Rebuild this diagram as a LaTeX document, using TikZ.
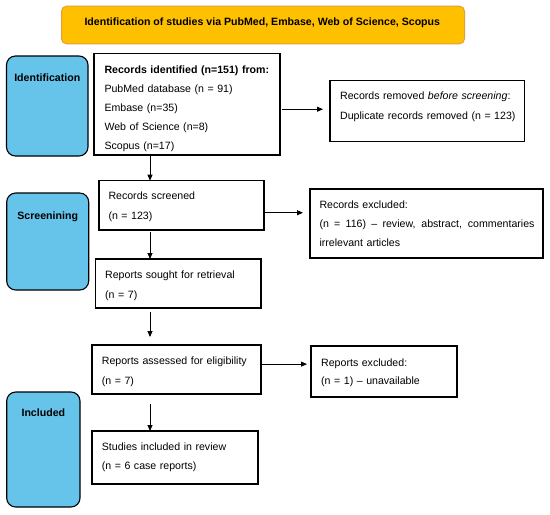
\documentclass[tikz,border=0pt]{standalone}
\usepackage{fontspec}
\setmainfont{Liberation Sans}
\usetikzlibrary{arrows.meta,calc}
\definecolor{stageblue}{RGB}{102,196,235}
\definecolor{titlefill}{RGB}{255,192,0}
\definecolor{titleedge}{RGB}{228,158,58}
\begin{document}
\begin{tikzpicture}[x=1pt,y=-1pt,
  box/.style={draw=black, line width=1.3pt, anchor=north west, inner sep=0pt, outer sep=0pt},
  stage/.style={draw=black, fill=stageblue, line width=1.1pt, rounded corners=9pt, anchor=north west, inner sep=0pt, outer sep=0pt},
  txt/.style={anchor=base west, inner sep=0pt, align=left, text width=230pt, font=\fontsize{10.6}{19.5}\selectfont},
  stagetxt/.style={anchor=base, inner sep=0pt, font=\fontsize{10.6}{12}\selectfont\bfseries},
  arr/.style={-{Triangle[length=6pt,width=5pt]}, line width=0.8pt}]
\useasboundingbox (0,0) rectangle (550,515);
\fill[white] (0,0) rectangle (550,515);
\coordinate (ax) at (150,0);

% title
\node[anchor=north west, draw=titleedge, fill=titlefill, line width=1pt, rounded corners=5pt,
  minimum width=403pt, minimum height=37.6pt, inner sep=0pt] (title) at (61,5.7) {};
\node[anchor=base, inner sep=0pt, font=\fontsize{10.6}{12}\selectfont\bfseries] (titletxt) at (262.3,25.8)
  {Identification of studies via PubMed, Embase, Web of Science, Scopus};

% stage boxes
\node[stage, minimum width=81.5pt, minimum height=100pt] (idb) at (6.5,56) {};
\node[stagetxt] (idbt) at ($(idb.north)+(0,25.2)$) {Identification};
\node[stage, minimum width=82pt, minimum height=97pt] (scb) at (6.7,193) {};
\node[stagetxt] (scbt) at ($(scb.north)+(0,26)$) {Screenining};
\node[stage, minimum width=73.3pt, minimum height=115pt] (inb) at (6.7,392) {};
\node[stagetxt] (inbt) at ($(inb.north)+(0,24)$) {Included};

% flow boxes
\node[box, minimum width=186pt, minimum height=101.7pt] (rid) at (94,53.3) {};
\node[txt, font=\fontsize{10.6}{19}\selectfont] (ridt) at (104.3,73.1)
  {\textbf{Records identified (n=151) from:}\\PubMed database (n = 91)\\Embase (n=35)\\Web of Science (n=8)\\Scopus (n=17)};

\node[box, minimum width=194.3pt, minimum height=61pt] (rrem) at (330,80.7) {};
\node[txt, font=\fontsize{10.6}{19.3}\selectfont] (rremt) at (340,99.8)
  {Records removed \textit{before screening}:\\Duplicate records removed (n = 123)};

\node[box, minimum width=165pt, minimum height=49.3pt] (rsc) at (99,180.7) {};
\node[txt, font=\fontsize{10.6}{20}\selectfont] (rsct) at (108.3,199.5)
  {Records screened\\(n = 123)};

\node[box, minimum width=233pt, minimum height=69pt] (rex) at (310,189) {};
\node[txt, font=\fontsize{10.6}{18.7}\selectfont] (rext) at (319.3,208.8)
  {Records excluded:\\\makebox[215pt][s]{\spaceskip=.28em plus 1fil (n = 116) – review, abstract, commentaries}\\irrelevant articles};

\node[box, minimum width=165.3pt, minimum height=49pt] (rsr) at (95.7,259) {};
\node[txt, font=\fontsize{10.6}{20.5}\selectfont] (rsrt) at (105,278.1)
  {Reports sought for retrieval\\(n = 7)};

\node[box, minimum width=169pt, minimum height=49pt] (ras) at (92,345) {};
\node[txt, font=\fontsize{10.6}{20}\selectfont] (rast) at (101.7,364.5)
  {Reports assessed for eligibility\\(n = 7)};

\node[box, minimum width=146pt, minimum height=51pt] (rexc) at (311,346) {};
\node[txt, font=\fontsize{10.6}{18.7}\selectfont] (rexct) at (321,366.1)
  {Reports excluded:\\(n = 1) – unavailable};

\node[box, minimum width=166pt, minimum height=53pt] (rst) at (92,431) {};
\node[txt, font=\fontsize{10.6}{19.7}\selectfont] (rstt) at (101.7,450.1)
  {Studies included in review\\(n = 6 case reports)};

% connector start points
\coordinate (s1) at ($(rid.east)!0.1!(rid.south east)$);
\coordinate (s2) at ($(rsc.east)!0.3!(rsc.south east)$);
\coordinate (s3) at ($(ras.east)!0.22!(ras.north east)$);

% connectors
\draw[arr, shorten <=2pt, shorten >=7pt] (s1) -- (s1 -| rrem.west);
\draw[arr, shorten >=7pt] (s2) -- (s2 -| rex.west);
\draw[arr, shorten >=4pt] (s3) -- (s3 -| rexc.west);

\draw[arr] (rid.south -| ax) -- (rsc.north -| ax);
\draw[arr, shorten <=2pt] (rsc.south -| ax) -- (rsr.north -| ax);
\draw[arr, shorten <=4pt, shorten >=8pt] (rsr.south -| ax) -- (ras.north -| ax);
\draw[arr, shorten <=10pt] (ras.south -| ax) -- (rst.north -| ax);
\end{tikzpicture}
\end{document}
